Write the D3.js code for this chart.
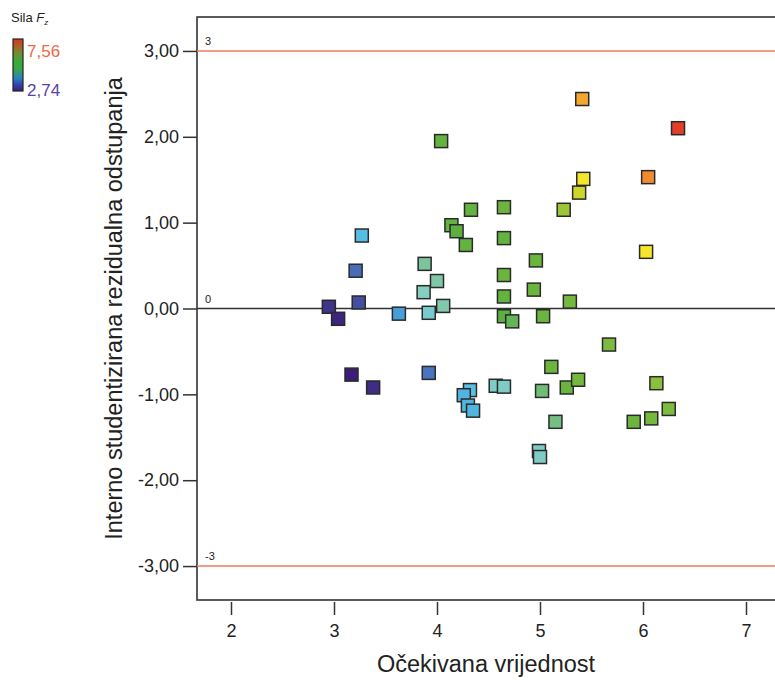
<!DOCTYPE html>
<html>
<head>
<meta charset="utf-8">
<title>Rezidualna odstupanja</title>
<script src="https://cdn.jsdelivr.net/npm/d3@7"></script>
<style>
  body { margin: 0; background: #fff; }
  text { font-family: "Liberation Sans", Arial, sans-serif; }
</style>
</head>
<body>
<svg id="mainsvg" width="775" height="682"></svg>
<script>
// ocekivana vrijednost (x), rezidual (y), sila Fz (boja)
const expected = [4.04, 5.41, 6.34, 5.42, 5.38, 6.05, 6.03, 5.23, 4.65, 4.33,
  4.14, 4.19, 4.28, 4.65, 3.27, 3.21, 3.88, 4.00, 3.87, 4.06,
  3.92, 3.24, 2.95, 3.04, 3.63, 4.96, 4.65, 4.65, 4.94, 5.29,
  4.65, 4.73, 5.03, 5.67, 3.17, 3.38, 3.92, 4.32, 4.26, 4.30,
  4.35, 5.11, 4.57, 4.65, 5.02, 5.26, 5.37, 6.13, 6.25, 6.08,
  5.91, 5.15, 4.99, 5.00]
const residual = [1.95, 2.44, 2.10, 1.51, 1.35, 1.53, 0.66, 1.15, 1.18, 1.15,
  0.97, 0.90, 0.74, 0.82, 0.85, 0.44, 0.52, 0.32, 0.19, 0.03,
  -0.05, 0.07, 0.02, -0.12, -0.06, 0.56, 0.39, 0.14, 0.22, 0.08,
  -0.09, -0.15, -0.09, -0.42, -0.77, -0.92, -0.75, -0.95, -1.01, -1.13,
  -1.19, -0.68, -0.90, -0.91, -0.96, -0.92, -0.83, -0.87, -1.17, -1.28,
  -1.32, -1.32, -1.66, -1.73]
const force = [5.1, 6.8, 7.5, 6.3, 6.0, 7.0, 6.3, 5.7, 5.2, 5.1,
  5.1, 5.0, 5.1, 5.1, 3.9, 3.3, 4.6, 4.5, 4.3, 4.45,
  4.2, 3.1, 2.9, 2.8, 3.6, 5.2, 5.2, 5.1, 5.2, 5.3,
  5.0, 4.9, 5.2, 5.4, 2.75, 2.85, 3.35, 3.95, 3.8, 3.8,
  3.8, 5.2, 4.25, 4.25, 4.75, 5.2, 5.3, 5.6, 5.4, 5.3,
  5.2, 4.7, 4.25, 4.25]

const xTicks = [2, 3, 4, 5, 6, 7]
const yTicks = [3, 2, 1, 0, -1, -2, -3]
const refLines = [3, 0, -3]
const refLabels = ['3', '0', '-3']
const forceRange = [2.74, 7.56]
const colorStops = [2.74, 3.3, 3.7, 4.0, 4.3, 4.6, 5.0, 5.6, 6.0, 6.3, 6.9, 7.56]
const colorValues = ['#3c1c78', '#4a6cb8', '#4aaee0', '#5cc4e4', '#86cec0', '#7cc49a',
  '#5bb040', '#8cc03c', '#cdd62a', '#f5e62c', '#f39a30', '#e0362a']

const svg = d3.select('#mainsvg')
const margin = {top: 17, right: -10, bottom: 82, left: 197}
const width = +svg.attr('width')
const height = +svg.attr('height')
const innerWidth = width - margin.left - margin.right
const innerHeight = height - margin.top - margin.bottom

const x = d3.scaleLinear()
  .domain([2 - 34 / 103, 2 + (innerWidth - 34) / 103])
  .range([0, innerWidth])
const y = d3.scaleLinear()
  .domain([-3 - 34 / 86, 3 + 34 / 86])
  .range([innerHeight, 0])
const color = d3.scaleLinear().domain(colorStops).range(colorValues)

const locale = d3.formatLocale({decimal: ',', thousands: '.', grouping: [3], currency: ['', ''], minus: '-'})
const fmt = locale.format('.2f')

const g = svg.append('g')
  .attr('transform', `translate(${margin.left}, ${margin.top})`)

// okvir
g.append('rect')
  .attr('width', innerWidth).attr('height', innerHeight)
  .attr('fill', 'none').attr('stroke', '#333').attr('stroke-width', 1.6)

// referentne linije
g.selectAll('.ref').data(refLines).join('line')
  .attr('x1', 0).attr('x2', innerWidth)
  .attr('y1', d => y(d)).attr('y2', d => y(d))
  .attr('stroke', d => d === 0 ? '#333' : '#ee7a5f')
  .attr('stroke-width', 1.5)
g.selectAll('.reflab').data(refLines).join('text')
  .attr('x', 8).attr('y', d => y(d) - 6)
  .attr('font-size', 11).attr('fill', '#222')
  .text((d, i) => refLabels[i])

// osi
const yAxis = g.append('g')
  .call(d3.axisLeft(y).tickValues(yTicks).tickFormat(fmt).tickSize(14).tickPadding(4).tickSizeOuter(0))
yAxis.select('.domain').remove()
yAxis.selectAll('line').attr('stroke', '#333').attr('stroke-width', 1.5)
yAxis.selectAll('text').attr('font-size', 18).attr('fill', '#222')
  .attr('font-family', '"Liberation Sans", Arial, sans-serif')

const xAxis = g.append('g')
  .attr('transform', `translate(0, ${innerHeight + 2})`)
  .call(d3.axisBottom(x).tickValues(xTicks).tickFormat(d3.format('d')).tickSize(13).tickPadding(9).tickSizeOuter(0))
xAxis.select('.domain').remove()
xAxis.selectAll('line').attr('stroke', '#333').attr('stroke-width', 1.5)
xAxis.selectAll('text').attr('font-size', 18).attr('fill', '#222')
  .attr('font-family', '"Liberation Sans", Arial, sans-serif')

// tocke
const pts = d3.range(expected.length)
const s = 13
g.selectAll('.pt').data(pts).join('rect')
  .attr('x', i => x(expected[i]) - s / 2)
  .attr('y', i => y(residual[i]) - s / 2)
  .attr('width', s).attr('height', s)
  .attr('fill', i => color(force[i]))
  .attr('stroke', '#2a2a2a').attr('stroke-width', 1.5)

// naslovi osi
svg.append('text')
  .attr('transform', `translate(122, ${margin.top + y(0)}) rotate(-90)`)
  .attr('text-anchor', 'middle')
  .attr('font-size', 23.5).attr('fill', '#222')
  .text('Interno studentizirana rezidualna odstupanja')
svg.append('text')
  .attr('x', 486).attr('y', 672)
  .attr('text-anchor', 'middle')
  .attr('font-size', 23.5).attr('fill', '#222')
  .text('Očekivana vrijednost')

// legenda
const lt = svg.append('text').attr('x', 11).attr('y', 22).attr('font-size', 13).attr('fill', '#222')
lt.append('tspan').text('Sila ')
lt.append('tspan').attr('font-style', 'italic').text('F')
lt.append('tspan').attr('font-size', 8).attr('font-style', 'italic').attr('dy', 3).text('z')

const defs = svg.append('defs')
const grad = defs.append('linearGradient').attr('id', 'fzgrad')
  .attr('x1', 0).attr('x2', 0).attr('y1', 1).attr('y2', 0)
const legendStops = [2.74, 3.4, 3.9, 4.8, 5.6, 6.3, 7.0, 7.56]
const legendColors = ['#3a1f78', '#3448b0', '#2a80c0', '#36a848', '#3ea83c', '#7a8a30', '#b05a28', '#d8381e']
grad.selectAll('stop').data(legendStops).join('stop')
  .attr('offset', d => (d - forceRange[0]) / (forceRange[1] - forceRange[0]))
  .attr('stop-color', (d, i) => legendColors[i])
svg.append('rect')
  .attr('x', 13).attr('y', 39).attr('width', 10).attr('height', 52)
  .attr('fill', 'url(#fzgrad)').attr('stroke', '#222').attr('stroke-width', 1.2)
svg.append('text').attr('x', 27).attr('y', 57).attr('font-size', 17)
  .attr('fill', '#ea6a45').text(fmt(forceRange[1]))
svg.append('text').attr('x', 27).attr('y', 96).attr('font-size', 17)
  .attr('fill', '#5b3fa6').text(fmt(forceRange[0]))
</script>
</body>
</html>
